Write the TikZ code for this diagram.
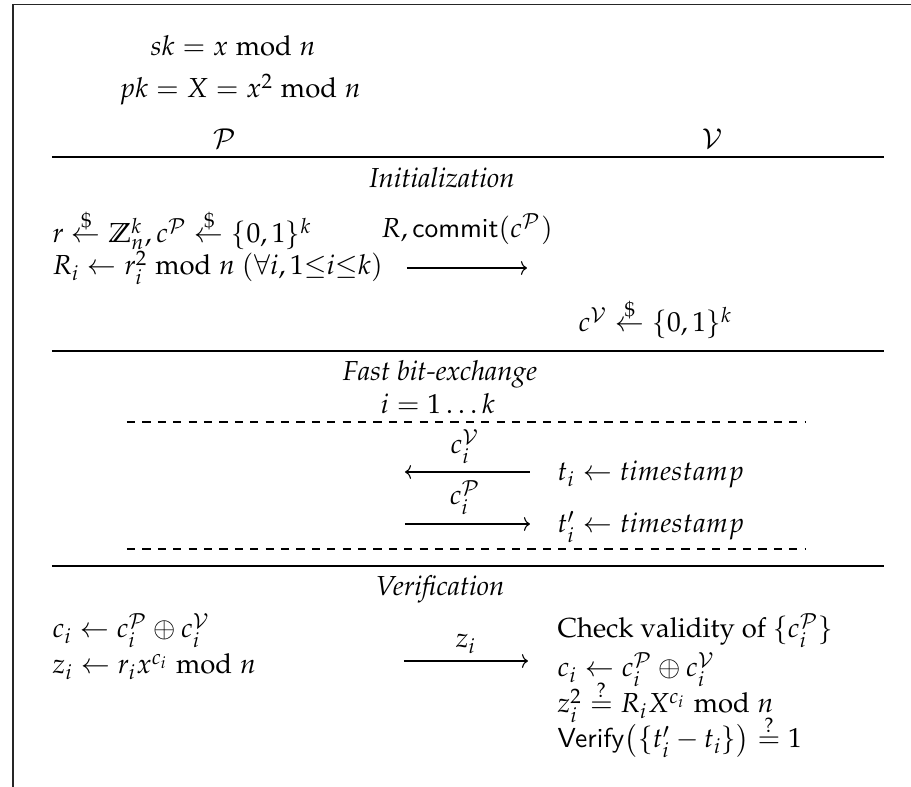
\documentclass[tikz,border=0pt]{standalone}
\usepackage[OT1]{fontenc}
\usepackage{amsmath,amssymb}
\usepackage{mathpazo}
\usetikzlibrary{arrows.meta}
\newcommand{\sfx}[1]{\text{\fontencoding{TU}\fontfamily{lmss}\selectfont #1}}
\begin{document}
\begin{tikzpicture}[x=0.36364pt,y=-0.36364pt,
  txt/.style={inner sep=0pt, anchor=base west},
  ctr/.style={inner sep=0pt, anchor=base},
  rule/.style={line width=0.45pt},
  dashrule/.style={line width=0.45pt, dash pattern=on 3pt off 2.6pt},
  msg/.style={line width=0.4pt, -{To[length=2.2pt,width=5pt]}},
  frame/.style={line width=0.6pt, black!85}]
\useasboundingbox (0,0) rectangle (911,787);
% frame
\coordinate (fb) at (13,787);
\coordinate (fc) at (13,4.5);
\coordinate (fr) at (911,4.5);
\draw[frame] (fb) -- (fc) -- (fr);
% header
\node[ctr] (sk) at (233,56) {$sk = x \bmod n$};
\node[ctr] (pk) at (240,98) {$pk = X = x^2 \bmod n$};
\node[ctr] (P) at (225,149) {$\mathcal{P}$};
\node[ctr] (V) at (712,149) {$\mathcal{V}$};
\coordinate (l1a) at (52,157); \coordinate (l1b) at (884,157);
\draw[rule] (l1a) -- (l1b);
% initialization
\node[ctr] (init) at (442,188) {\textit{Initialization}};
\node[txt] (r) at (52,243) {$r \stackrel{\$}{\leftarrow} \mathbb{Z}_n^k, c^{\mathcal{P}} \stackrel{\$}{\leftarrow} \{0,1\}^k$};
\node[txt] (Ri) at (52,275) {$R_i \leftarrow r_i^2 \bmod n\ (\forall i, 1{\leq}i{\leq}k)$};
\node[ctr] (m1) at (467,238) {$R, \sfx{commit}(c^{\mathcal{P}})$};
\coordinate (a1s) at (407,268); \coordinate (a1e) at (527,268);
\draw[msg] (a1s) -- (a1e);
\node[txt] (cV) at (578,332) {$c^{\mathcal{V}} \stackrel{\$}{\leftarrow} \{0,1\}^k$};
\coordinate (l2a) at (52,351); \coordinate (l2b) at (884,351);
\draw[rule] (l2a) -- (l2b);
% fast bit exchange
\node[ctr] (fast) at (440,381) {\textit{Fast bit-exchange}};
\node[ctr] (loop) at (438,414) {$i = 1 \ldots k$};
\coordinate (d1a) at (127,422); \coordinate (d1b) at (805,422);
\draw[dashrule] (d1a) -- (d1b);
\node[ctr] (m2) at (465,454) {$c_i^{\mathcal{V}}$};
\coordinate (a2s) at (530,472); \coordinate (a2e) at (405,472);
\draw[msg] (a2s) -- (a2e);
\node[txt] (ti) at (557,481) {$t_i \leftarrow timestamp$};
\node[ctr] (m3) at (465,505) {$c_i^{\mathcal{P}}$};
\coordinate (a3s) at (405,524); \coordinate (a3e) at (530,524);
\draw[msg] (a3s) -- (a3e);
\node[txt] (tpi) at (557,533) {$t'_i \leftarrow timestamp$};
\coordinate (d2a) at (127,549); \coordinate (d2b) at (805,549);
\draw[dashrule] (d2a) -- (d2b);
\coordinate (l3a) at (52,566); \coordinate (l3b) at (884,566);
\draw[rule] (l3a) -- (l3b);
% verification
\node[ctr] (ver) at (440,596) {\textit{Verification}};
\node[txt] (ci) at (52,638) {$c_i \leftarrow c_i^{\mathcal{P}} \oplus c_i^{\mathcal{V}}$};
\node[txt] (zi) at (52,674) {$z_i \leftarrow r_i x^{c_i} \bmod n$};
\node[ctr] (m4) at (466,648) {$z_i$};
\coordinate (a4s) at (404,661); \coordinate (a4e) at (528,661);
\draw[msg] (a4s) -- (a4e);
\node[txt] (chk) at (557,638) {Check validity of $\{c_i^{\mathcal{P}}\}$};
\node[txt] (ci2) at (557,677) {$c_i \leftarrow c_i^{\mathcal{P}} \oplus c_i^{\mathcal{V}}$};
\node[txt] (zz) at (557,713) {$z_i^2 \stackrel{?}{=} R_i X^{c_i} \bmod n$};
\node[txt] (vf) at (557,748) {$\sfx{Verify}\bigl(\{t'_i - t_i\}\bigr) \stackrel{?}{=} 1$};
\end{tikzpicture}
\end{document}
